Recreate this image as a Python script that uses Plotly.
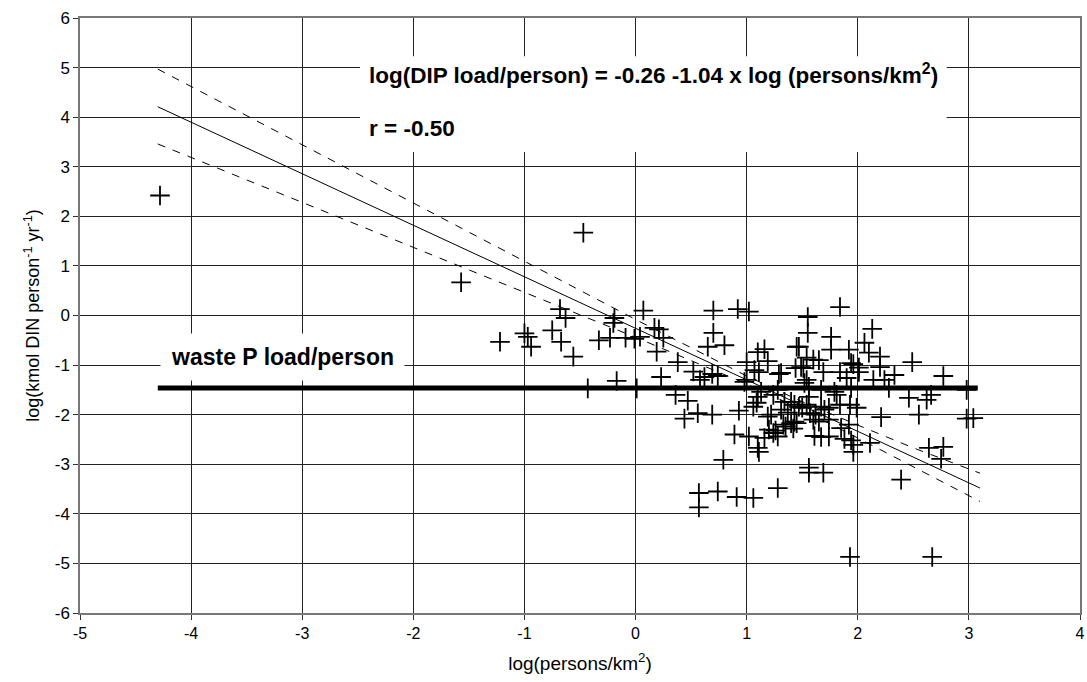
import plotly.graph_objects as go

# Scatter data: log(persons/km2) vs log(kmol DIN person-1 yr-1)
pts_x = [-4.28, -0.47, -1.57, -0.68, -0.63, -0.19, -0.2, -1.0, -0.97, -0.94, -1.22, -0.75, -0.67, -0.56,
         -0.33, -0.23, -0.17, -0.43, 0.01, 0.07, -0.09, -0.01, 0.04, 0.17, 0.21, 0.25, 0.19, 0.23, 0.38,
         0.7, 0.92, 1.02, 1.84, 1.55, 0.7, 0.65, 0.8, 0.52, 0.58, 0.62, 0.69, 0.36, 0.47, 0.44, 0.56,
         0.69, 0.93, 0.89, 1.02, 0.79, 0.57, 0.74, 0.91, 1.06, 1.28, 0.57, 1.0, 1.1, 1.16, 1.19, 1.07,
         1.11, 1.31, 1.29, 1.45, 1.44, 1.49, 1.0, 0.98, 1.1, 1.13, 1.09, 1.06, 1.24, 1.28, 1.34, 1.43,
         1.19, 1.22, 1.31, 1.37, 1.33, 1.43, 1.16, 1.24, 1.28, 1.1, 1.11, 1.26, 1.55, 1.76, 1.47, 1.76,
         1.92, 2.06, 2.13, 2.1, 2.2, 1.54, 1.6, 1.65, 1.51, 1.69, 1.84, 1.94, 2.01, 2.2, 2.33, 2.49,
         2.77, 1.9, 2.14, 2.24, 2.28, 1.52, 1.56, 1.54, 1.67, 1.79, 1.94, 1.4, 1.47, 1.54, 1.56, 1.5,
         2.46, 2.62, 2.66, 2.98, 1.7, 1.74, 1.84, 1.93, 1.99, 1.67, 2.21, 2.55, 2.98, 3.04, 1.6, 1.65,
         1.4, 1.45, 1.74, 1.85, 1.92, 1.61, 1.67, 1.74, 1.88, 1.94, 1.96, 1.96, 2.11, 2.64, 2.77, 2.75,
         1.56, 1.56, 1.69, 2.39, 1.93, 2.67, 1.57, 1.62, 1.81, 2.01, 1.96, 1.35, 1.42, 1.2, 0.74]
pts_y = [2.42, 1.67, 0.67, 0.13, -0.05, -0.05, -0.15, -0.36, -0.43, -0.63, -0.53, -0.3, -0.53, -0.83,
         -0.5, -0.45, -1.32, -1.47, -1.47, 0.1, -0.45, -0.47, -0.43, -0.25, -0.28, -0.45, -0.73, -1.24, -0.94,
         0.1, 0.13, 0.08, 0.17, -0.03, -0.35, -0.63, -0.6, -1.13, -1.3, -1.24, -1.18, -1.6, -1.72, -2.08, -1.97,
         -2.0, -1.92, -2.4, -2.44, -2.91, -3.58, -3.55, -3.66, -3.68, -3.48, -3.87, -0.94, -0.74, -0.68, -0.92, -1.1,
         -1.14, -1.16, -1.18, -0.63, -1.06, -1.04, -1.3, -1.34, -1.64, -1.54, -1.76, -1.84, -1.6, -1.5, -1.74, -1.8,
         -2.04, -2.0, -1.9, -1.96, -2.2, -2.14, -2.47, -2.37, -2.44, -2.67, -2.75, -2.32, -0.35, -0.43, -0.63, -0.69,
         -0.69, -0.55, -0.27, -0.75, -0.83, -0.85, -0.89, -0.9, -1.06, -1.14, -1.14, -0.96, -1.14, -1.04, -1.2, -0.94,
         -1.22, -1.26, -1.3, -1.3, -1.46, -1.36, -1.44, -1.3, -1.5, -1.54, -1.46, -1.74, -1.84, -1.8, -1.64, -1.86,
         -1.66, -1.7, -1.6, -1.5, -1.9, -1.86, -1.8, -1.8, -1.86, -1.84, -2.05, -2.0, -2.08, -2.07, -2.1, -2.14,
         -2.17, -2.17, -2.1, -2.27, -2.2, -2.43, -2.45, -2.44, -2.49, -2.52, -2.61, -2.75, -2.57, -2.67, -2.65, -2.89,
         -3.07, -3.17, -3.17, -3.31, -4.87, -4.87, -1.97, -2.0, -1.6, -1.05, -0.98, -2.24, -2.28, -2.3, -1.22]

# Regression fit and confidence band
band_x = [-4.3, -3.0, -2.0, -1.0, 0.0, 1.0, 1.5, 2.0, 2.5, 3.1]
fit_y = [4.21, 2.86, 1.82, 0.78, -0.26, -1.30, -1.82, -2.34, -2.86, -3.48]
upper_y = [4.97, 3.44, 2.26, 1.09, -0.08, -1.22, -1.74, -2.21, -2.67, -3.18]
lower_y = [3.46, 2.28, 1.38, 0.47, -0.44, -1.38, -1.90, -2.47, -3.05, -3.75]

# Waste P load per person line
waste_x = [-4.3, 3.08]
waste_y = [-1.46, -1.46]

x_ticks = [-5, -4, -3, -2, -1, 0, 1, 2, 3, 4]
y_ticks = [-6, -5, -4, -3, -2, -1, 0, 1, 2, 3, 4, 5, 6]

FONT = "Liberation Sans, Arial, sans-serif"

fig = go.Figure()
fig.add_trace(go.Scatter(x=waste_x, y=waste_y, mode="lines",
                         line=dict(color="black", width=5), showlegend=False))
fig.add_trace(go.Scatter(x=band_x, y=upper_y, mode="lines",
                         line=dict(color="black", width=1, dash="8px,8px"), showlegend=False))
fig.add_trace(go.Scatter(x=band_x, y=lower_y, mode="lines",
                         line=dict(color="black", width=1, dash="8px,8px"), showlegend=False))
fig.add_trace(go.Scatter(x=band_x, y=fit_y, mode="lines",
                         line=dict(color="black", width=1), showlegend=False))
fig.add_trace(go.Scatter(x=pts_x, y=pts_y, mode="markers",
                         marker=dict(symbol="cross-thin", size=14, color="black",
                                     line=dict(color="black", width=1.8)),
                         showlegend=False))

# white text box behind the equation (hides gridlines like the original)
fig.add_shape(type="rect", xref="x", yref="y", x0=-2.48, x1=2.8, y0=3.3, y1=5.23,
              fillcolor="white", line=dict(width=0), layer="above")
fig.add_annotation(x=-2.42, y=4.87, xref="x", yref="y", xanchor="left", yanchor="middle",
                   text="<b>log(DIP load/person) = -0.26 -1.04 x log (persons/km<sup>2</sup>)</b>",
                   showarrow=False, font=dict(family=FONT, size=22.5, color="black"))
fig.add_annotation(x=-2.42, y=3.78, xref="x", yref="y", xanchor="left", yanchor="middle",
                   text="<b>r = -0.50</b>",
                   showarrow=False, font=dict(family=FONT, size=22.5, color="black"))
fig.add_annotation(x=-4.28, y=-0.83, xref="x", yref="y", xanchor="left", yanchor="middle",
                   text="<b>waste P load/person</b>", borderpad=10,
                   showarrow=False, bgcolor="white", font=dict(family=FONT, size=23, color="black"))

fig.update_layout(
    width=1087, height=682,
    margin=dict(l=80, r=7, t=18, b=69),
    paper_bgcolor="white", plot_bgcolor="white",
    font=dict(family=FONT, size=16, color="black"),
)
fig.update_xaxes(range=[-5, 4], tickvals=x_ticks, ticktext=[str(v) for v in x_ticks],
                 showgrid=True, gridcolor="#222", gridwidth=1, zeroline=False,
                 showline=True, linecolor="#777", linewidth=1.5, mirror=True,
                 ticks="outside", ticklen=5, tickcolor="#333", automargin=False,
                 title=dict(text="log(persons/km<sup>2</sup>)", standoff=16,
                            font=dict(family=FONT, size=19)),
                 tickfont=dict(family=FONT, size=16))
fig.update_yaxes(range=[-6, 6], tickvals=y_ticks, ticktext=[str(v) for v in y_ticks],
                 showgrid=True, gridcolor="#222", gridwidth=1, zeroline=False,
                 showline=True, linecolor="#777", linewidth=1.5, mirror=True,
                 ticks="outside", ticklen=5, tickcolor="#333", automargin=False,
                 title=dict(text="log(kmol DIN person<sup>-1</sup> yr<sup>-1</sup>)", standoff=10,
                            font=dict(family=FONT, size=18)),
                 tickfont=dict(family=FONT, size=17))

fig.write_html("out.html", config={"displayModeBar": False},
               post_script="document.body.style.margin='0px';document.body.style.overflow='hidden';")
